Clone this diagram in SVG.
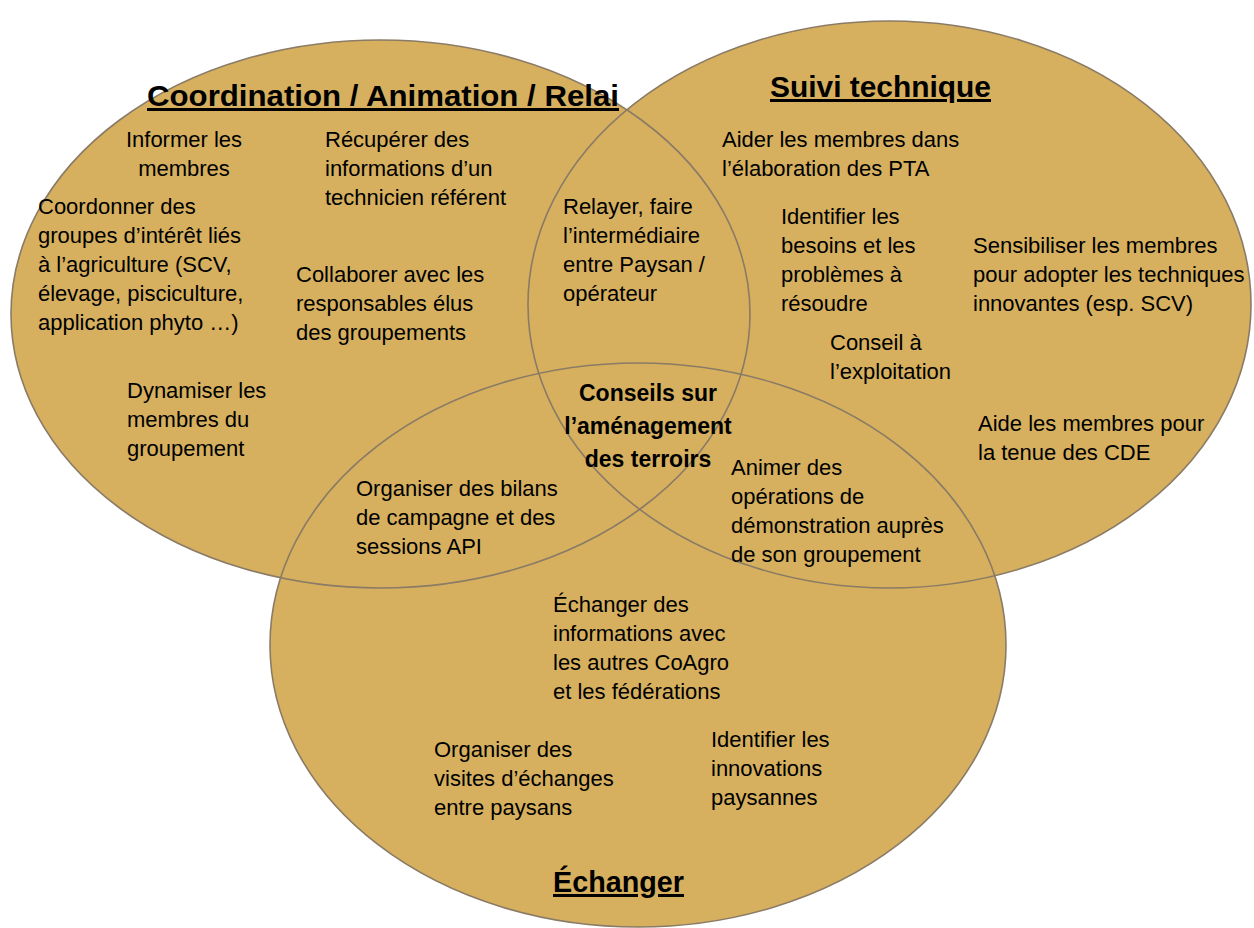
<svg xmlns="http://www.w3.org/2000/svg" width="1254" height="928" viewBox="0 0 1254 928">
<style>
.fill{fill:#D6B05E;stroke:none}
.edge{fill:none;stroke:#8a7b66;stroke-width:1.6}
text{font-family:"Liberation Sans",Arial,sans-serif;fill:#000}
.t{font-size:22px}
.h{font-size:30px;font-weight:bold;text-decoration:underline}
.b{font-size:23px;font-weight:bold}
</style>
<rect width="1254" height="928" fill="#fff"/>
<g id="shapes">
<ellipse class="fill" cx="380.5" cy="314" rx="369.5" ry="274"/>
<ellipse class="fill" cx="889.5" cy="304.5" rx="361.5" ry="283.5"/>
<ellipse class="fill" cx="638" cy="645" rx="368" ry="282"/>
</g>
<g id="outlines">
<ellipse id="circle-coordination" class="edge" cx="380.5" cy="314" rx="369.5" ry="274"/>
<ellipse id="circle-suivi" class="edge" cx="889.5" cy="304.5" rx="361.5" ry="283.5"/>
<ellipse id="circle-echanger" class="edge" cx="638" cy="645" rx="368" ry="282"/>
</g>
<g id="coordination">
<text class="h" x="147" y="106" textLength="472" lengthAdjust="spacingAndGlyphs">Coordination / Animation / Relai</text>
<text class="t" x="184" text-anchor="middle"><tspan x="184" y="147">Informer les</tspan><tspan x="184" y="176">membres</tspan></text>
<text class="t"><tspan x="325" y="147">Récupérer des</tspan><tspan x="325" y="176">informations d’un</tspan><tspan x="325" y="205">technicien référent</tspan></text>
<text class="t"><tspan x="38" y="214">Coordonner des</tspan><tspan x="38" y="243">groupes d’intérêt liés</tspan><tspan x="38" y="272">à l’agriculture (SCV,</tspan><tspan x="38" y="301">élevage, pisciculture,</tspan><tspan x="38" y="330">application phyto …)</tspan></text>
<text class="t"><tspan x="296" y="282">Collaborer avec les</tspan><tspan x="296" y="311">responsables élus</tspan><tspan x="296" y="340">des groupements</tspan></text>
<text class="t"><tspan x="127" y="398">Dynamiser les</tspan><tspan x="127" y="427">membres du</tspan><tspan x="127" y="456">groupement</tspan></text>
</g>
<g id="suivi">
<text class="h" x="770" y="97" textLength="221" lengthAdjust="spacingAndGlyphs">Suivi technique</text>
<text class="t"><tspan x="722" y="147">Aider les membres dans</tspan><tspan x="722" y="176">l’élaboration des PTA</tspan></text>
<text class="t"><tspan x="781" y="224">Identifier les</tspan><tspan x="781" y="253">besoins et les</tspan><tspan x="781" y="282">problèmes à</tspan><tspan x="781" y="311">résoudre</tspan></text>
<text class="t"><tspan x="973" y="253">Sensibiliser les membres</tspan><tspan x="973" y="282">pour adopter les techniques</tspan><tspan x="973" y="311">innovantes (esp. SCV)</tspan></text>
<text class="t"><tspan x="830" y="350">Conseil à</tspan><tspan x="830" y="379">l’exploitation</tspan></text>
<text class="t"><tspan x="978" y="431">Aide les membres pour</tspan><tspan x="978" y="460">la tenue des CDE</tspan></text>
</g>
<g id="overlap-coord-suivi">
<text class="t"><tspan x="563" y="214">Relayer, faire</tspan><tspan x="563" y="243">l’intermédiaire</tspan><tspan x="563" y="272">entre Paysan /</tspan><tspan x="563" y="301">opérateur</tspan></text>
</g>
<g id="center">
<text class="b" text-anchor="middle"><tspan x="648" y="401">Conseils sur</tspan><tspan x="648" y="434">l’aménagement</tspan><tspan x="648" y="467">des terroirs</tspan></text>
</g>
<g id="overlap-suivi-echanger">
<text class="t"><tspan x="731" y="475">Animer des</tspan><tspan x="731" y="504">opérations de</tspan><tspan x="731" y="533">démonstration auprès</tspan><tspan x="731" y="562">de son groupement</tspan></text>
</g>
<g id="overlap-coord-echanger">
<text class="t"><tspan x="356" y="496">Organiser des bilans</tspan><tspan x="356" y="525">de campagne et des</tspan><tspan x="356" y="554">sessions API</tspan></text>
</g>
<g id="echanger">
<text class="t"><tspan x="553" y="612">Échanger des</tspan><tspan x="553" y="641">informations avec</tspan><tspan x="553" y="670">les autres CoAgro</tspan><tspan x="553" y="699">et les fédérations</tspan></text>
<text class="t"><tspan x="434" y="757">Organiser des</tspan><tspan x="434" y="786">visites d’échanges</tspan><tspan x="434" y="815">entre paysans</tspan></text>
<text class="t"><tspan x="711" y="747">Identifier les</tspan><tspan x="711" y="776">innovations</tspan><tspan x="711" y="805">paysannes</tspan></text>
<text class="h" x="553" y="892" textLength="131" lengthAdjust="spacingAndGlyphs">Échanger</text>
</g>
</svg>
